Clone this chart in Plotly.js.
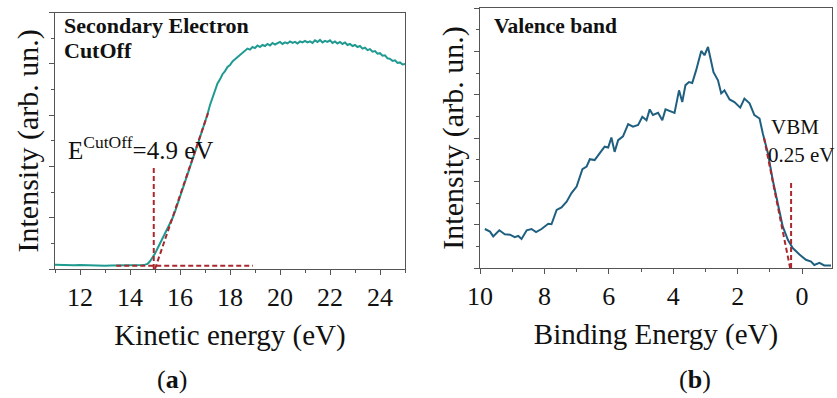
<!DOCTYPE html>
<html>
<head>
<meta charset="utf-8">
<script src="https://cdn.plot.ly/plotly-3.0.1.min.js"></script>
<style>html,body{margin:0;padding:0;background:#fff;}#chart{width:837px;height:398px;}</style>
</head>
<body>
<div id="chart"></div>
<script>
// ---- Panel (a): Secondary electron cutoff ----
var kineticEnergy = [11.0, 11.25, 11.5, 11.75, 12.0, 12.25, 12.5, 12.75, 13.0, 13.25, 13.5, 13.75, 14.0, 14.25, 14.5,
  14.6, 14.7, 14.8, 14.9, 15.0, 15.1, 15.2, 15.3, 15.4, 15.5, 15.6, 15.7, 15.8, 15.9, 16.0, 16.1, 16.2, 16.3, 16.4, 16.5,
  16.6, 16.7, 16.8, 16.9, 17.0, 17.1, 17.2, 17.3, 17.4, 17.5, 17.6, 17.7, 17.8, 17.9, 18.0, 18.1, 18.2, 18.3, 18.4, 18.5,
  18.6, 18.7, 18.8, 18.9, 19.0, 19.1, 19.2, 19.3, 19.4, 19.5, 19.6, 19.7, 19.8, 19.9, 20.0, 20.1, 20.2, 20.3, 20.4, 20.5,
  20.6, 20.7, 20.8, 20.9, 21.0, 21.1, 21.2, 21.3, 21.4, 21.5, 21.6, 21.7, 21.8, 21.9, 22.0, 22.1, 22.2, 22.3, 22.4, 22.5,
  22.6, 22.7, 22.8, 22.9, 23.0, 23.1, 23.2, 23.3, 23.4, 23.5, 23.6, 23.7, 23.8, 23.9, 24.0, 24.1, 24.2, 24.3, 24.4, 24.5,
  24.6, 24.7, 24.8, 24.9, 25.0];
var cutoffIntensity = [0.085, 0.08, 0.085, 0.075, 0.08, 0.075, 0.07, 0.07, 0.065, 0.07, 0.07, 0.075, 0.075, 0.08, 0.08,
  0.085, 0.10, 0.15, 0.22, 0.30, 0.40, 0.50, 0.60, 0.71, 0.80, 0.88, 0.99, 1.12, 1.27, 1.42, 1.56, 1.72, 1.86, 2.00, 2.15,
  2.28, 2.42, 2.56, 2.72, 2.88, 3.02, 3.20, 3.33, 3.47, 3.62, 3.70, 3.80, 3.86, 3.94, 3.98, 4.05, 4.09, 4.13, 4.18, 4.22,
  4.25, 4.30, 4.28, 4.33, 4.31, 4.36, 4.33, 4.37, 4.35, 4.39, 4.36, 4.41, 4.38, 4.40, 4.43, 4.39, 4.42, 4.40, 4.44, 4.41,
  4.43, 4.40, 4.44, 4.42, 4.45, 4.42, 4.44, 4.41, 4.46, 4.43, 4.47, 4.42, 4.45, 4.43, 4.46, 4.41, 4.44, 4.40, 4.43, 4.39,
  4.42, 4.37, 4.39, 4.35, 4.37, 4.33, 4.35, 4.30, 4.32, 4.27, 4.29, 4.24, 4.25, 4.20, 4.21, 4.16, 4.17, 4.11, 4.10, 4.06,
  4.07, 4.02, 4.03, 3.99, 4.00];
var cutoffTangentX = [15.0, 17.12];
var cutoffTangentY = [0.0, 3.04];
var cutoffBaseX = [13.45, 18.92];
var cutoffBaseY = [0.065, 0.065];
var cutoffMarkX = [14.95, 14.95];
var cutoffMarkY = [0.0, 2.0];

// ---- Panel (b): Valence band ----
var bindingEnergy = [9.85, 9.69, 9.59, 9.40, 9.23, 9.07, 8.92, 8.81, 8.71, 8.55, 8.40, 8.26, 8.09, 7.88, 7.78, 7.62, 7.47,
  7.31, 7.16, 7.00, 6.82, 6.69, 6.59, 6.44, 6.28, 6.13, 6.02, 5.92, 5.82, 5.71, 5.56, 5.40, 5.25, 5.09, 4.96, 4.83, 4.73,
  4.63, 4.47, 4.34, 4.24, 4.11, 3.96, 3.82, 3.72, 3.62, 3.51, 3.41, 3.29, 3.13, 3.03, 2.92, 2.85, 2.75, 2.61, 2.51, 2.41,
  2.25, 2.10, 1.92, 1.79, 1.63, 1.48, 1.32, 1.22, 1.06, 0.91, 0.75, 0.60, 0.44, 0.29, 0.08, -0.12, -0.28, -0.38, -0.54,
  -0.69, -0.90];
var valenceIntensity = [0.90, 0.84, 0.73, 0.87, 0.78, 0.77, 0.71, 0.74, 0.67, 0.87, 0.90, 0.83, 0.90, 1.02, 1.01, 1.34, 1.40,
  1.53, 1.73, 1.88, 2.28, 2.34, 2.51, 2.49, 2.65, 2.80, 2.78, 3.01, 2.68, 2.95, 3.04, 3.32, 3.26, 3.30, 3.49, 3.41, 3.66,
  3.53, 3.58, 3.41, 3.66, 3.63, 3.58, 4.10, 3.83, 4.22, 4.29, 4.27, 4.56, 5.01, 4.91, 5.10, 4.87, 4.52, 4.33, 4.03, 4.10,
  3.89, 3.83, 3.70, 3.91, 3.80, 3.53, 3.45, 3.11, 2.65, 2.03, 1.50, 0.96, 0.65, 0.46, 0.31, 0.19, 0.15, 0.07, 0.12,
  0.06, 0.06];
var vbmTangentX = [1.18, 0.37];
var vbmTangentY = [3.0, 0.0];
var vbmMarkX = [0.34, 0.34];
var vbmMarkY = [0.0, 2.0];

var xTicksA = [12, 14, 16, 18, 20, 22, 24];
var xTicksB = [10, 8, 6, 4, 2, 0];

// ---- layout helpers ----
var M = {l: 55, r: 5, t: 8, b: 129};
var W = 837, H = 398;
var PW = W - M.l - M.r, PH = H - M.t - M.b;
function px(x) { return (x - M.l) / PW; }
function py(y) { return (H - M.b - y) / PH; }

var FONT = "'Liberation Serif', 'Times New Roman', serif";
var red = '#a8282e';
var dashStyle = {color: red, width: 2, dash: '5px,3px'};

var traces = [
  {x: kineticEnergy, y: cutoffIntensity, xaxis: 'x', yaxis: 'y', mode: 'lines', line: {color: '#1f9a91', width: 2}},
  {x: cutoffBaseX, y: cutoffBaseY, xaxis: 'x', yaxis: 'y', mode: 'lines', line: dashStyle},
  {x: cutoffTangentX, y: cutoffTangentY, xaxis: 'x', yaxis: 'y', mode: 'lines', line: dashStyle},
  {x: cutoffMarkX, y: cutoffMarkY, xaxis: 'x', yaxis: 'y', mode: 'lines', line: dashStyle},
  {x: bindingEnergy, y: valenceIntensity, xaxis: 'x2', yaxis: 'y2', mode: 'lines', line: {color: '#1f5f80', width: 2}},
  {x: vbmTangentX, y: vbmTangentY, xaxis: 'x2', yaxis: 'y2', mode: 'lines', line: dashStyle},
  {x: vbmMarkX, y: vbmMarkY, xaxis: 'x2', yaxis: 'y2', mode: 'lines', line: dashStyle}
];

var axisCommon = {
  showline: true, mirror: true, linecolor: '#555', linewidth: 1,
  ticks: 'outside', tickcolor: '#555', ticklen: 5, tickwidth: 1,
  showgrid: false, zeroline: false, fixedrange: true, automargin: false
};

function xAxis(domain, range, tickvals, title) {
  return Object.assign({}, axisCommon, {
    domain: domain, range: range, tickmode: 'array', tickvals: tickvals,
    tickfont: {family: FONT, size: 26, color: '#111'},
    minor: {dtick: 1, ticklen: 3, ticks: 'outside', tickcolor: '#555', showgrid: false},
    title: {text: title, font: {family: FONT, size: 29, color: '#111'}, standoff: 13}
  });
}
function yAxis(domain, range, anchor) {
  return Object.assign({}, axisCommon, {
    domain: domain, range: range, anchor: anchor, dtick: 1, tick0: 0,
    showticklabels: false,
    minor: {dtick: 0.5, ticklen: 3, ticks: 'outside', tickcolor: '#555', showgrid: false},
    title: {text: 'Intensity (arb. un.)', font: {family: FONT, size: 30, color: '#111'}, standoff: 1}
  });
}

function note(text, xpx, ypx, size, xanchor) {
  return {xref: 'paper', yref: 'paper', x: px(xpx), y: py(ypx), xanchor: xanchor, yanchor: 'middle',
          showarrow: false, text: text, font: {family: FONT, size: size, color: '#111'}};
}

var layout = {
  width: W, height: H, margin: M, showlegend: false,
  paper_bgcolor: '#fff', plot_bgcolor: '#fff',
  font: {family: FONT, color: '#111'},
  xaxis: xAxis([0, px(405)], [11, 25], xTicksA, 'Kinetic energy (eV)'),
  yaxis: yAxis([0, py(12.7)], [0, 5], 'x'),
  xaxis2: Object.assign(xAxis([px(480), 1], [10, -0.93], xTicksB, 'Binding Energy (eV)'), {anchor: 'y2'}),
  yaxis2: yAxis([py(268), 1], [0, 6], 'x2'),
  annotations: [
    note('<b>Secondary Electron</b>', 62, 25, 22, 'left'),
    note('<b>CutOff</b>', 62, 51, 22, 'left'),
    note('E<sup>CutOff</sup>=4.9 eV', 66, 148, 25, 'left'),
    note('<b>Valence band</b>', 492, 26, 21.5, 'left'),
    note('VBM', 795, 127, 21, 'center'),
    note('0.25 eV', 766, 155, 21, 'left'),
    note('(<b>a</b>)', 172, 379, 26, 'center'),
    note('(<b>b</b>)', 695, 379, 26, 'center')
  ]
};

Plotly.newPlot('chart', traces, layout, {staticPlot: true, displayModeBar: false});
</script>
</body>
</html>
